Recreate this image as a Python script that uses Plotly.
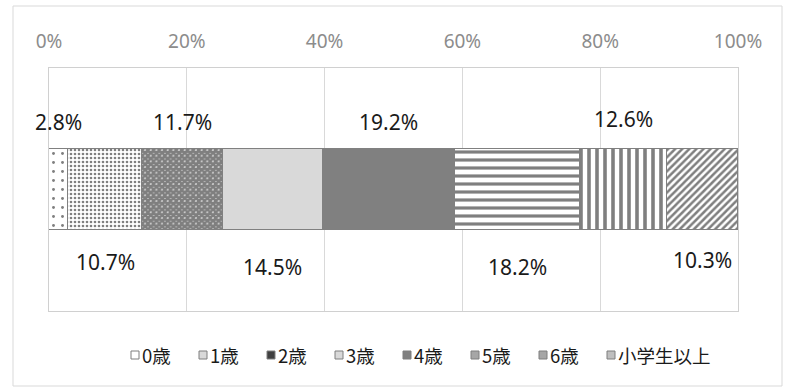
import plotly.graph_objects as go

# Age groups and their shares (%)
categories = ["0歳", "1歳", "2歳", "3歳", "4歳", "5歳", "6歳", "小学生以上"]
shares = [2.8, 10.7, 11.7, 14.5, 19.2, 18.2, 12.6, 10.3]
tick_vals = [0, 20, 40, 60, 80, 100]
tick_text = ["0%", "20%", "40%", "60%", "80%", "100%"]

# Fill style per segment: (base color, pattern shape, pattern size, solidity)
styles = [
    ("white", ".", 9, 0.08),
    ("white", ".", 4, 0.35),
    ("white", "x", 4, 0.9),
    ("#d9d9d9", "", 8, 0.3),
    ("#808080", "", 8, 0.3),
    ("white", "-", 8, 0.4),
    ("white", "|", 8, 0.45),
    ("white", "/", 5, 0.5),
]
# Small key swatch fill for each group
key_fill = ["white", "#d9d9d9", "#404040", "#d9d9d9", "#808080", "#a6a6a6", "#a6a6a6", "#bfbfbf"]

# Label placement above (+) or below (-) the bar, in y-axis units
label_y = [0.278, -0.30, 0.278, -0.32, 0.278, -0.32, 0.29, -0.29]

FONT = "Noto Sans, Noto Sans CJK JP"
W, H = 788, 387
L, R, T, B = 49, 50, 68, 76
PW, PH = W - L - R, H - T - B

fig = go.Figure()

for name, val, (col, shp, sz, sol) in zip(categories, shares, styles):
    fig.add_trace(go.Bar(
        name=name, x=[val], y=[0], orientation="h", width=0.337,
        marker=dict(
            color=col,
            line=dict(color="#808080", width=1.5),
            pattern=dict(shape=shp, size=sz, solidity=sol, fgcolor="black",
                         bgcolor=col, fillmode="overlay"),
        ),
        hoverinfo="skip", showlegend=False,
    ))

# Value labels at each segment's center
start = 0.0
for val, ly in zip(shares, label_y):
    center = start + val / 2
    fig.add_annotation(x=center, y=ly, xref="x", yref="y",
                       text=f"{val:.1f}%", showarrow=False,
                       font=dict(family=FONT, size=21, color="#1a1a1a"))
    start += val

# Key row below the plot: small square swatch followed by the group name
def px_x(p):
    return (p - L) / PW

def px_y(p):
    return (T + PH - p) / PH

key_x0, key_step, key_y, sw = 131, 68, 355, 8
for i, (name, fill) in enumerate(zip(categories, key_fill)):
    x = key_x0 + i * key_step
    fig.add_shape(type="rect", xref="paper", yref="paper",
                  x0=px_x(x), x1=px_x(x + sw), y0=px_y(key_y + sw / 2), y1=px_y(key_y - sw / 2),
                  line=dict(color="#7f7f7f", width=1), fillcolor=fill)
    fig.add_annotation(x=px_x(x + sw + 1), y=px_y(key_y), xref="paper", yref="paper",
                       text=name, showarrow=False, xanchor="left", yanchor="middle",
                       font=dict(family="Noto Sans CJK JP", size=18.5, color="#1a1a1a"))

# Outer chart frame
fig.add_shape(type="rect", xref="paper", yref="paper",
              x0=px_x(13), x1=px_x(782), y0=px_y(386), y1=px_y(6),
              line=dict(color="#d9d9d9", width=1), fillcolor="rgba(0,0,0,0)",
              layer="below")

fig.update_layout(
    barmode="stack",
    width=W, height=H,
    margin=dict(l=L, r=R, t=T, b=B),
    paper_bgcolor="white", plot_bgcolor="white",
    font=dict(family=FONT, size=16, color="#1a1a1a"),
    bargap=0,
    showlegend=False,
    xaxis=dict(side="top", range=[0, 100], tickvals=tick_vals, ticktext=tick_text,
               showgrid=True, gridcolor="#d9d9d9", gridwidth=1,
               ticks="outside", ticklen=11, tickcolor="rgba(0,0,0,0)",
               tickfont=dict(family=FONT, size=19, color="#8c8c8c"),
               showline=True, linecolor="#d0d0d0", mirror=True, zeroline=False),
    yaxis=dict(range=[-0.5, 0.5], showticklabels=False, showgrid=False,
               zeroline=False, showline=True, linecolor="#d0d0d0", mirror=True),
)

fig.write_html("out.html")
